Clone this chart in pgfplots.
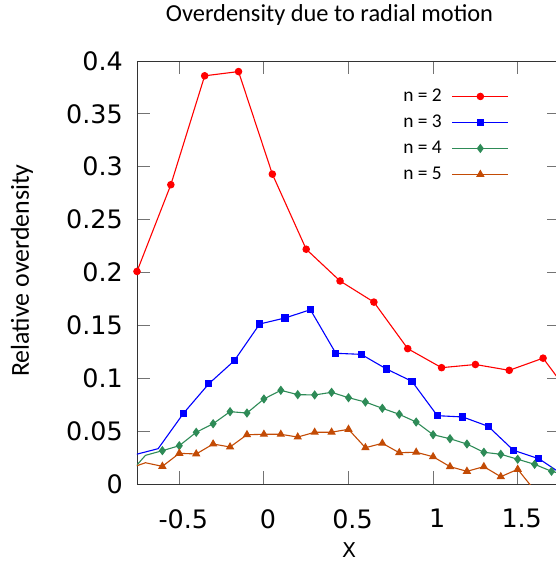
\documentclass[border=0pt]{standalone}
\usepackage{fontspec}
\setmainfont{Carlito}
\newfontfamily\dejavu{DejaVu Sans}
\usepackage{pgfplots}
\usepackage{pgfplotstable}
\pgfplotsset{compat=1.18}
\definecolor{ntwo}{RGB}{255,0,0}
\definecolor{nthree}{RGB}{0,0,255}
\definecolor{nfour}{RGB}{46,139,87}
\definecolor{nfive}{RGB}{195,75,5}

\pgfplotstableread{
x y
-0.75 0.201
-0.55 0.283
-0.35 0.386
-0.15 0.390
0.05 0.293
0.25 0.222
0.45 0.192
0.65 0.172
0.85 0.128
1.05 0.110
1.25 0.113
1.45 0.1075
1.65 0.119
1.85 0.076
}\ntwotab

\pgfplotstableread{
x y
-0.775 0.0272
-0.625 0.0334
-0.475 0.0669
-0.325 0.0949
-0.175 0.1166
-0.025 0.1513
0.125 0.157
0.275 0.1648
0.425 0.1236
0.575 0.1226
0.725 0.1087
0.875 0.0971
1.025 0.0646
1.175 0.0634
1.325 0.0546
1.475 0.0319
1.625 0.0239
1.775 0.008
}\nthreetab

\pgfplotstableread{
x y
-0.8 0.009
-0.7 0.0271
-0.6 0.0315
-0.5 0.0362
-0.4 0.0489
-0.3 0.057
-0.2 0.0684
-0.1 0.0671
0 0.0804
0.1 0.0886
0.2 0.0845
0.3 0.0842
0.4 0.0867
0.5 0.0816
0.6 0.0775
0.7 0.0716
0.8 0.0659
0.9 0.0586
1.0 0.0466
1.1 0.0428
1.2 0.0378
1.3 0.030
1.4 0.0281
1.5 0.0234
1.6 0.0186
1.7 0.012
1.8 0.008
}\nfourtab

\pgfplotstableread{
x y
-0.8 0.0145
-0.7 0.0201
-0.6 0.0167
-0.5 0.029
-0.4 0.0284
-0.3 0.0378
-0.2 0.035
-0.1 0.0466
0 0.047
0.1 0.047
0.2 0.0444
0.3 0.0489
0.4 0.0490
0.5 0.0517
0.6 0.0343
0.7 0.0385
0.8 0.0296
0.9 0.030
1.0 0.0258
1.1 0.0164
1.2 0.012
1.3 0.0164
1.4 0.0069
1.5 0.0139
1.6 -0.006
}\nfivetab

\begin{document}
\begin{tikzpicture}
\begin{axis}[
  at={(0,0)}, anchor=south west,
  scale only axis,
  width=423bp, height=423bp,
  xmin=-0.75, xmax=1.75,
  ymin=0, ymax=0.4,
  xtick={-0.5,0,0.5,1,1.5},
  xticklabels={-0.5,0,0.5,1,1.5},
  ytick={0,0.05,0.1,0.15,0.2,0.25,0.3,0.35,0.4},
  yticklabels={0,0.05,0.1,0.15,0.2,0.25,0.3,0.35,0.4},
  tick align=inside,
  major tick length=12.7bp,
  minor tick num=0,
  tick style={color=black!55, line width=0.8bp},
  axis line style={color=black!80, line width=0.8bp},
  tick label style={font=\dejavu\fontsize{25.5}{25.5}\selectfont, inner sep=0pt},
  yticklabel style={xshift=-14bp},
  xticklabel style={yshift=-25bp, xshift=4bp},
  every axis title shift=0pt,
  title={Overdensity due to radial motion},
  title style={at={(axis description cs:0.4551,1.0922)}, anchor=base,
               font=\fontsize{24.5}{24.5}\selectfont},
  xlabel={X},
  xlabel style={at={(axis description cs:0.5012,-0.1726)}, anchor=base,
                font=\dejavu\fontsize{20.5}{20.5}\selectfont},
  ylabel={Relative overdensity},
  ylabel style={at={(axis description cs:-0.2719,0.5047)}, anchor=center,
                font=\fontsize{26}{26}\selectfont},
  legend plot pos=right,
  legend cell align=left,
  legend image code/.code={
    \draw[mark indices={2}] plot coordinates {(0bp,0bp) (28bp,0bp) (56bp,0bp)};},
  legend style={at={(axis description cs:0.622,0.945)}, anchor=north west,
                draw=none, fill=none, font=\fontsize{19.5}{19.5}\selectfont,
                nodes={inner sep=0pt, text height=15bp, text depth=5bp},
                row sep=6bp, column sep=10bp},
]
\addplot[ntwo, line width=1.1bp, mark=*, mark size=3.2bp,
         mark indices={1,...,13}] table {\ntwotab};
\addlegendentry{n = 2}
\addplot[nthree, line width=1.1bp, mark=square*, mark size=3bp,
         mark indices={2,...,17}] table {\nthreetab};
\addlegendentry{n = 3}
\addplot[nfour, line width=1.1bp, mark=diamond*, mark size=3.8bp,
         mark indices={2,...,26}] table {\nfourtab};
\addlegendentry{n = 4}
\addplot[nfive, line width=1.1bp, mark=triangle*, mark size=3.8bp,
         mark indices={2,...,24}] table {\nfivetab};
\addlegendentry{n = 5}
\end{axis}
\pgfresetboundingbox
\useasboundingbox (-137bp,-83bp) rectangle (419bp,484bp);
\end{tikzpicture}
\end{document}
